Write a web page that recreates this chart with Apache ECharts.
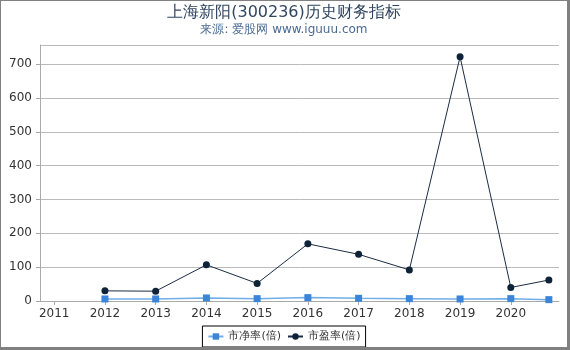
<!DOCTYPE html>
<html>
<head>
<meta charset="utf-8">
<script src="https://cdn.jsdelivr.net/npm/echarts@6/dist/echarts.min.js"></script>
<style>
html,body{margin:0;padding:0;background:#fff;}
#wrap{width:570px;height:350px;box-sizing:border-box;border-left:1px solid #808080;border-top:1px solid #808080;border-right:3px solid #808080;border-bottom:3px solid #808080;}
#chart{width:566px;height:346px;}
</style>
</head>
<body>
<div id="wrap"><div id="chart"></div></div>
<script>
var years = [2012, 2013, 2014, 2015, 2016, 2017, 2018, 2019, 2020, 2020.75];
var pbValues = [6, 6, 9, 7, 10, 8, 7, 6, 7, 4];
var peValues = [30, 29, 107, 52, 169, 138, 92, 722, 40, 62];
var xTicks = [2011, 2012, 2013, 2014, 2015, 2016, 2017, 2018, 2019, 2020];
var pbName = '市净率(倍)';
var peName = '市盈率(倍)';

function pairs(xs, ys){ return xs.map(function(x,i){ return [x, ys[i]]; }); }

var font = 'DejaVu Sans';
var chart = echarts.init(document.getElementById('chart'));
chart.setOption({
  animation: false,
  textStyle: {fontFamily: font},
  title: {
    text: '上海新阳(300236)历史财务指标',
    subtext: '来源: 爱股网 www.iguuu.com',
    left: 'center', top: -1,
    itemGap: 3,
    textStyle: {fontFamily: font, fontSize: 16, fontWeight: 'normal', color: '#2f4560'},
    subtextStyle: {fontFamily: font, fontSize: 12, color: '#4b6a92'}
  },
  legend: {
    bottom: 0, left: 'center',
    borderColor: '#000', borderWidth: 1, borderRadius: 0,
    padding: [5, 5],
    itemWidth: 15, itemHeight: 8, itemGap: 6,
    textStyle: {fontFamily: font, fontSize: 11, color: '#333'},
    data: [pbName, peName]
  },
  grid: {left: 39, right: 8, top: 44, bottom: 46},
  xAxis: {
    type: 'value', min: 2010.72, max: 2020.95,
    splitLine: {show: false},
    axisLine: {lineStyle: {color: '#aaa'}},
    axisTick: {show: true, customValues: xTicks, length: 4, lineStyle: {color: '#aaa'}},
    axisLabel: {customValues: xTicks, color: '#333', fontSize: 12, fontFamily: font, margin: 7, formatter: function(v){return String(v);}}
  },
  yAxis: {
    type: 'value', min: 0, max: 757, interval: 100,
    axisLine: {show: true, lineStyle: {color: '#aaa'}},
    axisTick: {show: true, length: 4, lineStyle: {color: '#aaa'}},
    splitLine: {lineStyle: {color: '#bbb'}},
    axisLabel: {color: '#333', fontSize: 12, fontFamily: font, margin: 8,
      showMaxLabel: false}
  },
  series: [
    {
      name: pbName, type: 'line', data: pairs(years, pbValues),
      symbol: 'rect', symbolSize: 7,
      itemStyle: {color: '#3a84da'},
      lineStyle: {color: '#70aee8', width: 1.5}
    },
    {
      name: peName, type: 'line', data: pairs(years, peValues),
      symbol: 'circle', symbolSize: 7,
      itemStyle: {color: '#0e2238'},
      lineStyle: {color: '#1a2c44', width: 1}
    }
  ]
});
</script>
</body>
</html>
